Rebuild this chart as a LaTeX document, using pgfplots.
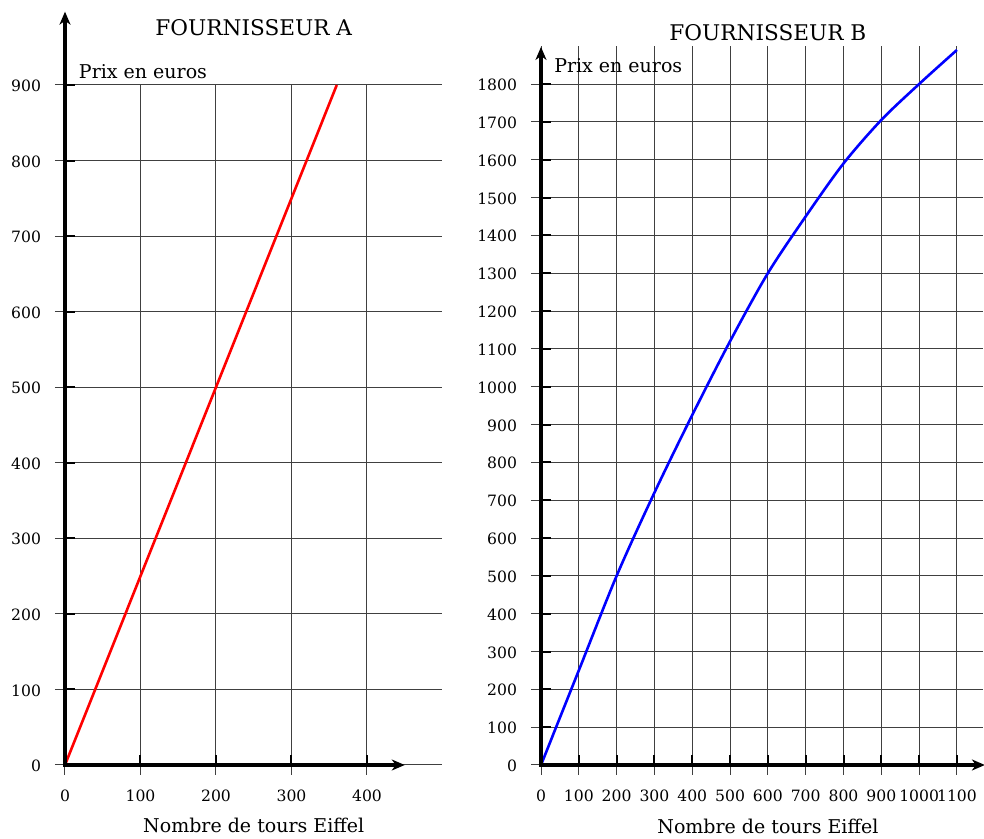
\documentclass[border=0pt]{standalone}
\usepackage{fontspec}
\setmainfont{DejaVu Serif}
\usepackage{pgfplots}
\pgfplotsset{compat=1.18}
\usetikzlibrary{arrows.meta}
\newcommand{\lblfont}{\fontsize{9.5}{11}\selectfont}
\newcommand{\ttlfont}{\fontsize{10.8}{13}\selectfont}
\newcommand{\tckfont}{\fontsize{7.8}{9}\selectfont}
\pgfplotsset{mystyle/.style={
  scale only axis, axis lines=left, axis line style={draw=none},
  enlargelimits=false, clip=false,
  grid=major, major grid style={line width=0.5pt, black!75},
  tick align=inside, major tick length=5pt, tick style={line width=1pt, black},
  ticklabel style={font=\tckfont, inner sep=0pt, outer sep=0pt},
  xticklabel style={anchor=base, yshift=-18.5pt},
  yticklabel style={anchor=base east, xshift=-12pt, yshift=-3.3pt},
  extra x tick labels={}, extra y tick labels={},
  extra tick style={grid=none, tick align=outside, major tick length=5pt,
     tick style={line width=0.5pt, black!75}},
  scaled ticks=false,
  /pgf/number format/.cd, 1000 sep={}, assume math mode=true
}}
\begin{document}
\begin{tikzpicture}
\path[use as bounding box] (0,0) rectangle (492pt,419.5pt);
% ---------- Fournisseur A
\begin{axis}[mystyle, at={(32.5pt,37pt)}, anchor=south west,
  width=188.75pt, height=340pt,
  xmin=0, xmax=500, ymin=0, ymax=900,
  xtick={0,100,...,400}, ytick={0,100,...,900},
  extra x ticks={0,100,...,400}, extra y ticks={0,100,...,900}]
\addplot[red, line width=1.3pt] coordinates {(0,0) (360,900)};
\draw[line width=2pt, {Stealth[length=6.5pt,width=5.5pt,inset=2pt]}-{Stealth[length=6.5pt,width=5.5pt,inset=2pt]}]
  (axis cs:450,0) -- (axis cs:0,0) -- (axis cs:0,997);
\node[anchor=base, font=\ttlfont] at (axis cs:250,966) {FOURNISSEUR A};
\node[anchor=base west, inner sep=0pt, font=\lblfont] at (axis cs:18,909) {Prix en euros};
\node[anchor=base, inner sep=0pt, font=\lblfont] at (axis cs:250,-90) {Nombre de tours Eiffel};
\end{axis}
% ---------- Fournisseur B
\begin{axis}[mystyle, at={(270.5pt,37pt)}, anchor=south west,
  width=221.2pt, height=359.4pt,
  xmin=0, xmax=1170, ymin=0, ymax=1900,
  xtick={0,100,...,1100}, ytick={0,100,...,1800},
  extra x ticks={0,100,...,1100}, extra y ticks={0,100,...,1800}]
\addplot[blue, line width=1.3pt, smooth] coordinates {
 (0,0) (100,250) (200,500) (300,720) (400,925) (500,1120) (600,1300)
 (700,1450) (800,1590) (900,1705) (1000,1800) (1100,1890)};
\draw[line width=2pt, {Stealth[length=6.5pt,width=5.5pt,inset=2pt]}-{Stealth[length=6.5pt,width=5.5pt,inset=2pt]}]
  (axis cs:1174,0) -- (axis cs:0,0) -- (axis cs:0,1898);
\node[anchor=base, font=\ttlfont] at (axis cs:600,1916) {FOURNISSEUR B};
\node[anchor=base west, inner sep=0pt, font=\lblfont] at (axis cs:34,1830) {Prix en euros};
\node[anchor=base, inner sep=0pt, font=\lblfont] at (axis cs:600,-180) {Nombre de tours Eiffel};
\end{axis}
\end{tikzpicture}
\end{document}
